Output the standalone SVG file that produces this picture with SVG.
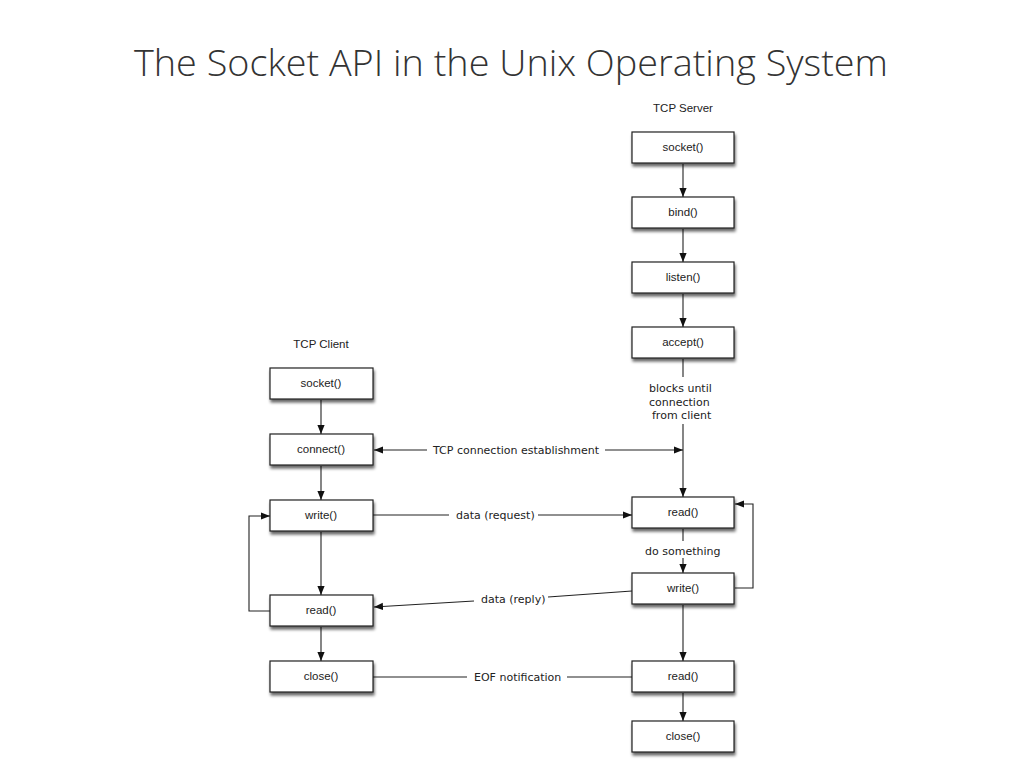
<svg xmlns="http://www.w3.org/2000/svg" width="1024" height="768" viewBox="0 0 1024 768">
<defs>
<filter id="sh" x="-10%" y="-20%" width="130%" height="160%">
<feGaussianBlur in="SourceAlpha" stdDeviation="1.5"/>
<feOffset dx="1" dy="2.5" result="b"/>
<feComponentTransfer><feFuncA type="linear" slope="0.6"/></feComponentTransfer>
<feMerge><feMergeNode/><feMergeNode in="SourceGraphic"/></feMerge>
</filter>
<marker id="ah" viewBox="0 0 10 10" refX="10" refY="5" markerWidth="9" markerHeight="9" markerUnits="userSpaceOnUse" orient="auto">
<path d="M0,1 L10,5 L0,9 z" fill="#111"/>
</marker>
</defs>
<style>
.box{fill:#fff;stroke:#222;stroke-width:1.2;filter:url(#sh)}
.lbl{font-family:"Liberation Sans",Arial,sans-serif;font-size:11.5px;fill:#222;text-anchor:middle}
.hd{font-family:"Liberation Sans",Arial,sans-serif;font-size:11.5px;fill:#222;text-anchor:middle}
.el{font-family:"DejaVu Sans","Liberation Sans",sans-serif;font-size:11px;fill:#222}
.ln{fill:none;stroke:#222;stroke-width:1.1}
.ar{fill:none;stroke:#222;stroke-width:1.1;marker-end:url(#ah)}
</style>
<rect width="1024" height="768" fill="#fff"/>
<text x="511" y="76" font-family="'Open Sans','Liberation Sans',sans-serif" font-size="36" font-weight="300" fill="#333" text-anchor="middle" textLength="754" lengthAdjust="spacingAndGlyphs">The Socket API in the Unix Operating System</text>
<text class="hd" x="683" y="112">TCP Server</text>
<text class="hd" x="321" y="348">TCP Client</text>

<g id="connectors">
<!-- server vertical -->
<line class="ar" x1="683" y1="164" x2="683" y2="197"/>
<line class="ar" x1="683" y1="229" x2="683" y2="262"/>
<line class="ar" x1="683" y1="294" x2="683" y2="327"/>
<line class="ln" x1="683" y1="359" x2="683" y2="377"/>
<line class="ar" x1="683" y1="424" x2="683" y2="497"/>
<line class="ln" x1="683" y1="529" x2="683" y2="541"/>
<line class="ar" x1="683" y1="558" x2="683" y2="573"/>
<line class="ar" x1="683" y1="605" x2="683" y2="661"/>
<line class="ar" x1="683" y1="693" x2="683" y2="721"/>
<!-- server loop -->
<polyline class="ar" points="735,588 753,588 753,504 735,504"/>
<!-- client vertical -->
<line class="ar" x1="321" y1="400" x2="321" y2="434"/>
<line class="ar" x1="321" y1="466" x2="321" y2="500"/>
<line class="ar" x1="321" y1="532" x2="321" y2="595"/>
<line class="ar" x1="321" y1="627" x2="321" y2="661"/>
<!-- client loop -->
<polyline class="ar" points="270,611 249,611 249,516 270,516"/>
<!-- TCP connection establishment -->
<line class="ar" x1="427" y1="450" x2="374" y2="450"/>
<line class="ar" x1="605" y1="450" x2="683" y2="450"/>
<text class="el" x="433" y="454">TCP connection establishment</text>
<!-- data request -->
<line class="ln" x1="373" y1="515" x2="449" y2="515"/>
<line class="ar" x1="538" y1="515" x2="632" y2="515"/>
<text class="el" x="456" y="519">data (request)</text>
<!-- data reply -->
<line class="ln" x1="632" y1="591" x2="548" y2="597"/>
<line class="ar" x1="474" y1="601" x2="374" y2="607"/>
<text class="el" x="481" y="603">data (reply)</text>
<!-- EOF -->
<line class="ln" x1="373" y1="677" x2="467" y2="677"/>
<line class="ln" x1="567" y1="677" x2="632" y2="677"/>
<text class="el" x="474" y="681">EOF notification</text>
<!-- server annotations -->
<text class="el" x="649" y="392">blocks until</text>
<text class="el" x="649" y="406">connection</text>
<text class="el" x="652" y="419">from client</text>
<text class="el" x="645" y="555">do something</text>
</g>

<g id="s-socket"><rect class="box" x="632" y="132" width="102" height="31"/><text class="lbl" x="683" y="151">socket()</text></g>
<g id="s-bind"><rect class="box" x="632" y="197" width="102" height="31"/><text class="lbl" x="683" y="216">bind()</text></g>
<g id="s-listen"><rect class="box" x="632" y="262" width="102" height="31"/><text class="lbl" x="683" y="281">listen()</text></g>
<g id="s-accept"><rect class="box" x="632" y="327" width="102" height="31"/><text class="lbl" x="683" y="346">accept()</text></g>
<g id="s-read"><rect class="box" x="632" y="497" width="102" height="31"/><text class="lbl" x="683" y="516">read()</text></g>
<g id="s-write"><rect class="box" x="632" y="573" width="102" height="31"/><text class="lbl" x="683" y="592">write()</text></g>
<g id="s-read2"><rect class="box" x="632" y="661" width="102" height="31"/><text class="lbl" x="683" y="680">read()</text></g>
<g id="s-close"><rect class="box" x="632" y="721" width="102" height="31"/><text class="lbl" x="683" y="740">close()</text></g>

<g id="c-socket"><rect class="box" x="270" y="368" width="103" height="31"/><text class="lbl" x="321" y="387">socket()</text></g>
<g id="c-connect"><rect class="box" x="270" y="434" width="103" height="31"/><text class="lbl" x="321" y="453">connect()</text></g>
<g id="c-write"><rect class="box" x="270" y="500" width="103" height="31"/><text class="lbl" x="321" y="519">write()</text></g>
<g id="c-read"><rect class="box" x="270" y="595" width="103" height="31"/><text class="lbl" x="321" y="614">read()</text></g>
<g id="c-close"><rect class="box" x="270" y="661" width="103" height="31"/><text class="lbl" x="321" y="680">close()</text></g>
</svg>
